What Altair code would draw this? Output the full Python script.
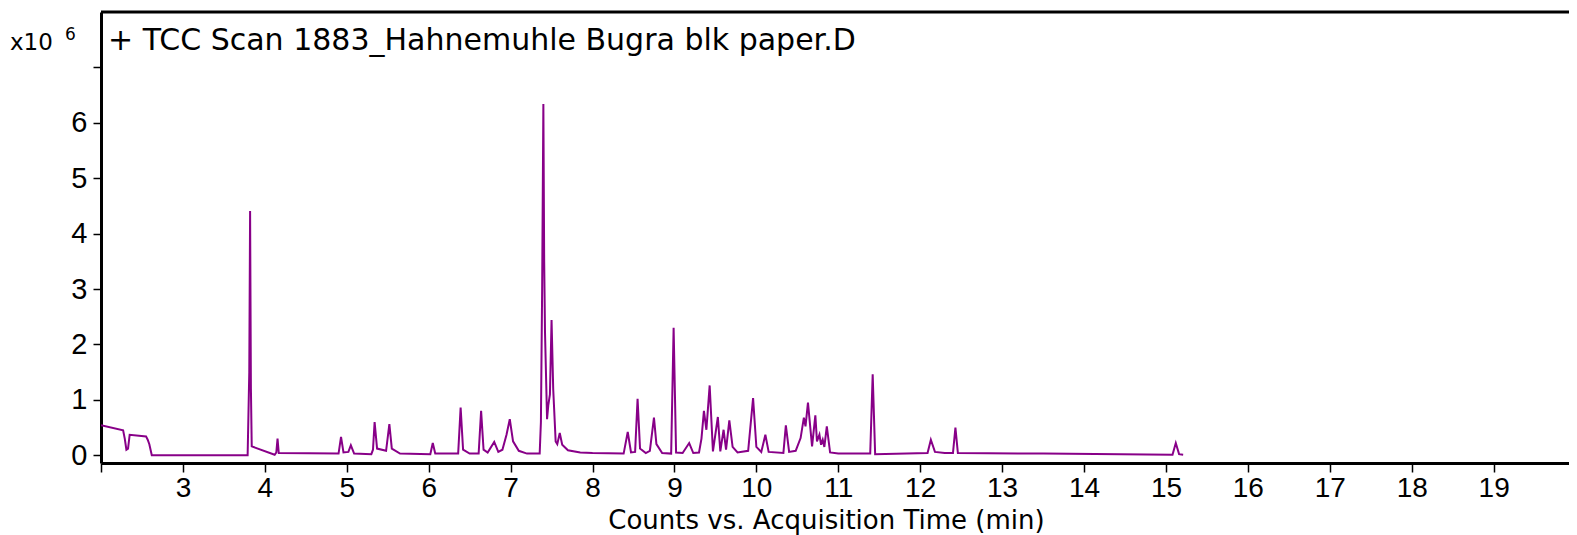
import altair as alt
import pandas as pd

# Retention time (min) and counts (x10^6)
times = [2.00, 2.27, 2.29, 2.31, 2.33, 2.35, 2.55, 2.57, 2.59, 2.62,
         3.79, 3.81, 3.82, 3.83, 3.84, 4.12, 4.14, 4.155, 4.17,
         4.90, 4.93, 4.96, 5.02, 5.05, 5.09, 5.30, 5.32, 5.34, 5.37,
         5.48, 5.52, 5.55, 5.65, 6.02, 6.05, 6.08, 6.36, 6.39, 6.42, 6.50,
         6.61, 6.64, 6.67, 6.72, 6.80, 6.85, 6.90, 6.95, 6.99, 7.03, 7.10, 7.20,
         7.355, 7.37, 7.385, 7.40, 7.41, 7.42, 7.445, 7.46, 7.48, 7.50, 7.52,
         7.55, 7.57, 7.60, 7.63, 7.70, 7.85, 8.00,
         8.38, 8.43, 8.47, 8.52, 8.55, 8.58, 8.65, 8.70, 8.75, 8.78, 8.85,
         8.96, 8.99, 9.02, 9.10, 9.18, 9.23, 9.30, 9.33, 9.36, 9.39, 9.43,
         9.47, 9.53, 9.56, 9.60, 9.63, 9.67, 9.71, 9.77, 9.90, 9.96, 10.00,
         10.06, 10.11, 10.15, 10.33, 10.36, 10.40, 10.48, 10.54, 10.58, 10.60,
         10.63, 10.68, 10.72, 10.74, 10.77, 10.79, 10.81, 10.83, 10.86, 10.90,
         11.00, 11.39, 11.42, 11.45, 12.09, 12.13, 12.18, 12.30, 12.40, 12.43,
         12.46, 13.50, 15.08, 15.12, 15.16, 15.21]
counts = [0.54, 0.45, 0.30, 0.10, 0.12, 0.37, 0.34, 0.28, 0.20, 0.00,
          0.00, 1.50, 4.41, 1.20, 0.16, 0.01, 0.05, 0.30, 0.04,
          0.03, 0.33, 0.05, 0.06, 0.18, 0.03, 0.02, 0.10, 0.60, 0.12,
          0.08, 0.56, 0.12, 0.03, 0.02, 0.22, 0.03, 0.03, 0.86, 0.10, 0.03,
          0.03, 0.80, 0.10, 0.05, 0.24, 0.06, 0.10, 0.37, 0.65, 0.25, 0.08, 0.03,
          0.03, 0.60, 3.00, 6.34, 3.50, 2.22, 0.65, 0.90, 1.10, 2.44, 1.20,
          0.25, 0.20, 0.40, 0.19, 0.09, 0.05, 0.04,
          0.03, 0.42, 0.05, 0.06, 1.02, 0.12, 0.04, 0.08, 0.68, 0.20, 0.04,
          0.03, 2.30, 0.05, 0.04, 0.22, 0.04, 0.05, 0.30, 0.80, 0.46, 1.26,
          0.07, 0.69, 0.07, 0.46, 0.10, 0.63, 0.15, 0.05, 0.08, 1.03, 0.15,
          0.06, 0.37, 0.06, 0.04, 0.54, 0.06, 0.08, 0.31, 0.68, 0.52,
          0.95, 0.16, 0.72, 0.25, 0.37, 0.19, 0.28, 0.15, 0.52, 0.05,
          0.03, 0.03, 1.46, 0.02, 0.04, 0.28, 0.06, 0.04, 0.04, 0.50,
          0.04, 0.03, 0.01, 0.22, 0.02, 0.01]

x_ticks = list(range(2, 20))
y_ticks = list(range(0, 8))
title_text = "+ TCC Scan 1883_Hahnemuhle Bugra blk paper.D"
x_title = "Counts vs. Acquisition Time (min)"
scale_base = "x10"
scale_exp = "6"

df = pd.DataFrame({"t": times, "c": counts})
one = pd.DataFrame({"k": [0]})
TICKFONT = "Liberation Sans"
TEXTFONT = "DejaVu Sans"
W, H = 1468, 451

x_enc = alt.X("t:Q", scale=alt.Scale(domain=[2, 19.92], nice=False, zero=False),
              axis=alt.Axis(values=x_ticks, title=x_title, grid=False,
                            labelExpr="datum.value == 2 ? '' : datum.label",
                            domainColor="black", domainWidth=3, tickColor="black",
                            tickWidth=1.5, tickSize=9, labelFontSize=28, labelFont=TICKFONT,
                            labelColor="black", labelPadding=2, titleFont=TEXTFONT,
                            titleFontSize=26, titleFontWeight="normal", titleColor="black",
                            titleX=725, titleY=65, titleBaseline="alphabetic",
                            titleAnchor="middle", titleAlign="center"))
y_enc = alt.Y("c:Q", scale=alt.Scale(domain=[-0.14, 8.0], nice=False, zero=False),
              axis=alt.Axis(values=y_ticks, title=None, grid=False,
                            labelExpr="datum.value == 7 ? '' : datum.label",
                            domainColor="black", domainWidth=3, tickColor="black",
                            tickWidth=1.5, tickSize=8, labelFontSize=29, labelFont=TICKFONT,
                            labelColor="black", labelPadding=6))

line = alt.Chart(df).mark_line(color="#880088", strokeWidth=2, clip=True).encode(
    x=x_enc, y=y_enc)

top_border = alt.Chart(one).mark_rule(color="black", strokeWidth=3).encode(
    x=alt.value(0), x2=alt.value(W), y=alt.value(0))

label_main = alt.Chart(one).mark_text(
    text=title_text, font=TEXTFONT, fontSize=30, align="left", baseline="alphabetic",
    color="black").encode(x=alt.value(7), y=alt.value(38))

label_x10 = alt.Chart(one).mark_text(
    text=scale_base, font=TEXTFONT, fontSize=23, align="left", baseline="alphabetic",
    color="black").encode(x=alt.value(-91), y=alt.value(38))

label_exp = alt.Chart(one).mark_text(
    text=scale_exp, font=TEXTFONT, fontSize=17, align="left", baseline="alphabetic",
    color="black").encode(x=alt.value(-36), y=alt.value(28))

chart = alt.layer(line, top_border, label_main, label_x10, label_exp).properties(
    width=W, height=H, autosize="none",
    padding={"left": 93, "top": 4, "right": 0, "bottom": 72},
).configure_view(stroke=None).configure(background="white")

chart.save("out.html", embed_options={"renderer": "svg", "actions": False})
